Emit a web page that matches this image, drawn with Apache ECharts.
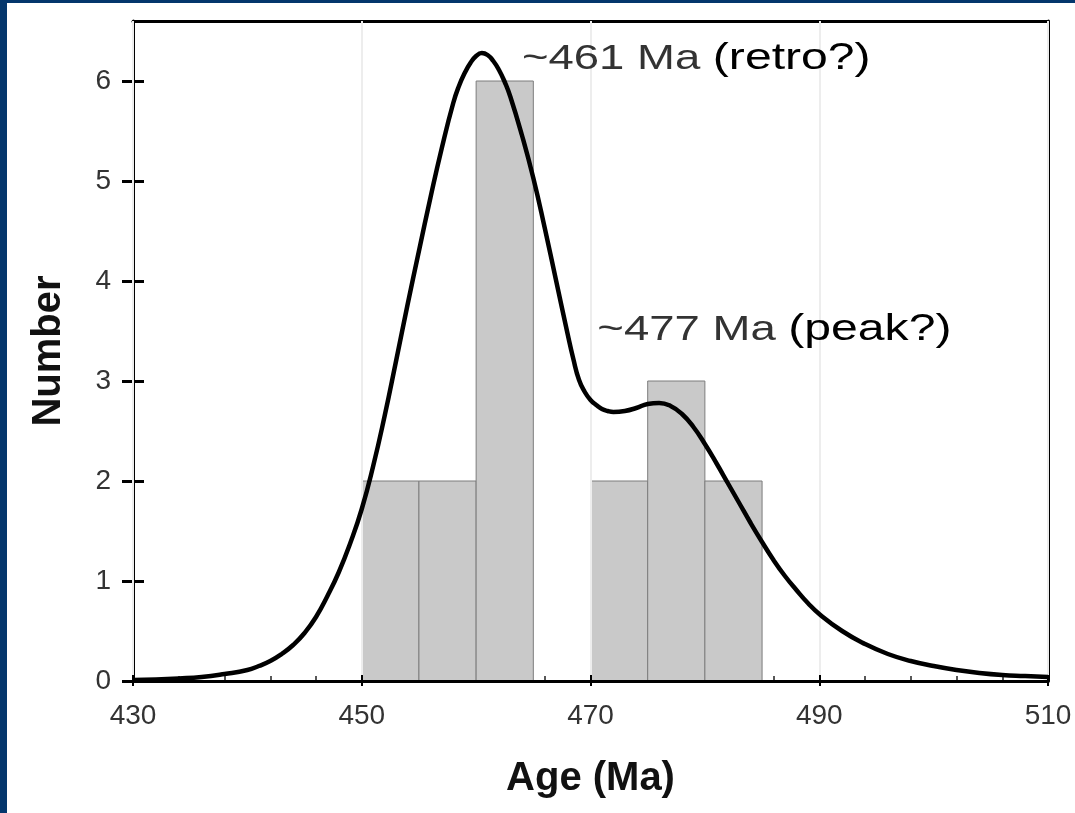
<!DOCTYPE html>
<html>
<head>
<meta charset="utf-8">
<script src="https://cdn.jsdelivr.net/npm/echarts@6/dist/echarts.min.js"></script>
<style>
  html, body { margin: 0; padding: 0; background: #04366c; }
  #chart { position: absolute; left: 7px; top: 3px; width: 1068px; height: 810px; background: #fff; }
</style>
</head>
<body>
<div id="chart"></div>
<script>
// histogram bins (Ma) and counts
var binStart = [450, 455, 460, 470, 475, 480];
var binEnd = [455, 460, 465, 475, 480, 485];
var binCount = [2, 2, 6, 2, 3, 2];

// probability curve
var curveAge = [430, 432, 434, 436, 438, 440, 441, 442, 443, 444, 445, 446, 447, 448, 449, 450, 451, 452, 453, 454, 455, 456, 457, 458, 458.5, 459, 459.5, 460, 460.5, 461, 461.5, 462, 462.5, 463, 464, 465, 466, 467, 468, 468.5, 469, 469.5, 470, 470.5, 471, 471.5, 472, 473, 474, 475, 476, 477, 478, 479, 480, 481, 482, 483, 484, 485, 486, 487, 488, 489, 490, 492, 494, 496, 498, 500, 502, 504, 506, 508, 510];
var curveValue = [0.01, 0.015, 0.025, 0.04, 0.07, 0.11, 0.15, 0.2, 0.27, 0.36, 0.48, 0.64, 0.85, 1.09, 1.38, 1.72, 2.15, 2.65, 3.2, 3.76, 4.3, 4.83, 5.33, 5.78, 5.95, 6.08, 6.18, 6.25, 6.28, 6.26, 6.2, 6.11, 5.99, 5.84, 5.46, 5.03, 4.53, 4.0, 3.47, 3.22, 3.01, 2.89, 2.81, 2.76, 2.72, 2.7, 2.69, 2.7, 2.73, 2.77, 2.78, 2.75, 2.67, 2.54, 2.37, 2.18, 1.98, 1.78, 1.58, 1.39, 1.21, 1.05, 0.91, 0.78, 0.67, 0.5, 0.37, 0.27, 0.2, 0.15, 0.11, 0.08, 0.06, 0.05, 0.04];

var xTicks = [430, 450, 470, 490, 510];
var yTicks = [0, 1, 2, 3, 4, 5, 6];

// peak annotations
var peakLabels = ['~461 Ma', '~477 Ma'];
var peakNotes = ['(retro?)', '(peak?)'];
var noteAge = [464.0, 470.6];
var noteValue = [6.22, 3.51];

var chart = echarts.init(document.getElementById('chart'));

var labelFont = 'Liberation Sans, Arial, sans-serif';

// plain axis used only to draw the frame line on top / right
function frameAxis(pos, min, max) {
  return {
    type: 'value', min: min, max: max, position: pos, offset: 0,
    axisLine: { show: true, lineStyle: { color: '#000', width: 3 } },
    axisTick: { show: false }, axisLabel: { show: false }, splitLine: { show: false }
  };
}

var option = {
  animation: false,
  grid: { left: 126, right: 27, top: 18, bottom: 132 },
  xAxis: [{
    type: 'value', min: 430, max: 510, interval: 20,
    position: 'bottom', offset: 0,
    name: 'Age (Ma)', nameLocation: 'middle', nameGap: 78,
    nameTextStyle: { fontFamily: labelFont, fontWeight: 'bold', fontSize: 40, color: '#111' },
    axisLine: { show: true, lineStyle: { color: '#000', width: 3 } },
    axisTick: { show: true, inside: true, length: 6, lineStyle: { color: '#000', width: 2 } },
    axisLabel: { customValues: xTicks, margin: 21, fontFamily: labelFont, fontSize: 28, color: '#333' },
    splitLine: { show: true, lineStyle: { color: '#ededed', width: 2 } },
    z: 3
  }, {
    type: 'value', min: 430, max: 510, interval: 20,
    position: 'bottom', offset: 0,
    axisLine: { show: false },
    axisTick: { show: true, inside: false, length: 5, lineStyle: { color: '#000', width: 2 } },
    axisLabel: { show: false },
    splitLine: { show: false }
  }, {
    type: 'value', min: 430, max: 510, interval: 4,
    position: 'bottom', offset: 0,
    axisLine: { show: false },
    axisTick: { show: true, inside: true, length: 5, lineStyle: { color: '#222', width: 1.5 } },
    axisLabel: { show: false },
    splitLine: { show: false }
  }, frameAxis('top', 430, 510)],
  yAxis: [{
    type: 'value', min: 0, max: 6.6,
    position: 'left', offset: 0,
    name: 'Number', nameLocation: 'middle', nameGap: 64,
    nameTextStyle: { fontFamily: labelFont, fontWeight: 'bold', fontSize: 40, color: '#111' },
    axisLine: { show: true, lineStyle: { color: '#000', width: 3 } },
    axisTick: { show: true, customValues: yTicks, inside: false, length: 11, lineStyle: { color: '#000', width: 3 } },
    axisLabel: { customValues: yTicks, margin: 22, fontFamily: labelFont, fontSize: 28, color: '#333' },
    splitLine: { show: false }
  }, {
    type: 'value', min: 0, max: 6.6,
    position: 'left', offset: 0,
    axisLine: { show: false },
    axisTick: { show: true, customValues: yTicks, inside: true, length: 11, lineStyle: { color: '#000', width: 3 } },
    axisLabel: { show: false },
    splitLine: { show: false }
  }, frameAxis('right', 0, 6.6)],
  series: [{
    type: 'custom',
    xAxisIndex: 0, yAxisIndex: 0,
    data: binStart.map(function (s, i) { return [s, binEnd[i], binCount[i]]; }),
    encode: { x: [0, 1], y: 2 },
    renderItem: function (params, api) {
      var p0 = api.coord([api.value(0), api.value(2)]);
      var p1 = api.coord([api.value(1), 0]);
      return {
        type: 'rect',
        shape: { x: p0[0], y: p0[1], width: p1[0] - p0[0], height: p1[1] - p0[1] },
        style: { fill: '#c9c9c9', stroke: '#7d7d7d', lineWidth: 1 }
      };
    },
    z: 2
  }, {
    type: 'line',
    xAxisIndex: 0, yAxisIndex: 0,
    data: curveAge.map(function (a, i) { return [a, curveValue[i]]; }),
    smooth: 0.5,
    showSymbol: false,
    lineStyle: { color: '#000', width: 4.5 },
    z: 5
  }]
};

chart.setOption(option);

// annotations placed in data coordinates
var graphics = noteAge.map(function (a, i) {
  var p = chart.convertToPixel({ seriesIndex: 1 }, [a, noteValue[i]]);
  return {
    type: 'text',
    x: p[0], y: p[1],
    scaleX: 1.3,
    z: 10,
    style: {
      text: '{a|' + peakLabels[i] + ' }{b|' + peakNotes[i] + '}',
      textAlign: 'left',
      verticalAlign: 'middle',
      rich: {
        a: { fontFamily: labelFont, fontSize: 35, fill: '#333' },
        b: { fontFamily: labelFont, fontSize: 37, fill: '#000' }
      }
    }
  };
});
chart.setOption({ graphic: graphics });
</script>
</body>
</html>
